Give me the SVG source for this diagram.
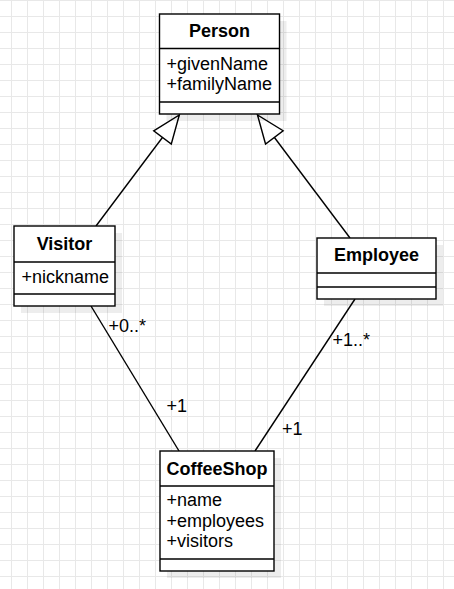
<svg xmlns="http://www.w3.org/2000/svg" width="454" height="589" viewBox="0 0 454 589">
<defs>
<pattern id="grid" patternUnits="userSpaceOnUse" x="11" y="0" width="16" height="16">
<path d="M0.5 0V16M0 0.5H16" stroke="#e8e8e8" stroke-width="1" fill="none"/>
</pattern>
<marker id="gen" markerUnits="userSpaceOnUse" viewBox="-1 -1 30 24" markerWidth="30" markerHeight="24" refX="28" refY="11" orient="auto" overflow="visible">
<path d="M0,0 L28,11 L0,22 Z" fill="#fff" stroke="#000" stroke-width="1.4"/>
</marker>
<style>
.box{fill:#fff;stroke:#000;stroke-width:1.4}
.sh{fill:#000;fill-opacity:0.07}
.div{stroke:#000;stroke-width:1.4}
.t{font-family:"Liberation Sans",Arial,sans-serif;font-size:18px;fill:#000}
.h{font-weight:bold;text-anchor:middle}
.ln{stroke:#000;stroke-width:1.4;fill:none}
</style>
</defs>
<rect width="454" height="589" fill="#fff"/>
<rect width="454" height="589" fill="url(#grid)"/>

<g id="connectors">
<path class="ln" d="M96,226 L179.3,115" marker-end="url(#gen)"/>
<path class="ln" d="M350,238 L257.5,115" marker-end="url(#gen)"/>
<path class="ln" d="M91,306 L179,451"/>
<path class="ln" d="M355,299 L255,451"/>
<text class="t" x="108.5" y="332">+0..*</text>
<text class="t" x="166.5" y="412">+1</text>
<text class="t" x="332.5" y="346">+1..*</text>
<text class="t" x="282" y="435">+1</text>
</g>

<g id="person">
<rect class="sh" x="166.5" y="21" width="120" height="100"/>
<rect class="box" x="159.5" y="14" width="120" height="100"/>
<line class="div" x1="159.5" y1="48.5" x2="279.5" y2="48.5"/>
<line class="div" x1="159.5" y1="102" x2="279.5" y2="102"/>
<text class="t h" x="219.5" y="37">Person</text>
<text class="t" x="166.5" y="69.5">+givenName</text>
<text class="t" x="166.5" y="90">+familyName</text>
</g>

<g id="visitor">
<rect class="sh" x="21" y="233" width="101" height="80"/>
<rect class="box" x="14" y="226" width="101" height="80"/>
<line class="div" x1="14" y1="262" x2="115" y2="262"/>
<line class="div" x1="14" y1="294" x2="115" y2="294"/>
<text class="t h" x="64.5" y="250">Visitor</text>
<text class="t" x="21.5" y="283">+nickname</text>
</g>

<g id="employee">
<rect class="sh" x="324" y="245" width="119" height="61"/>
<rect class="box" x="317" y="238" width="119" height="61"/>
<line class="div" x1="317" y1="273" x2="436" y2="273"/>
<line class="div" x1="317" y1="287" x2="436" y2="287"/>
<text class="t h" x="376.5" y="261">Employee</text>
</g>

<g id="coffeeshop">
<rect class="sh" x="167" y="458" width="114" height="120"/>
<rect class="box" x="160" y="451" width="114" height="120"/>
<line class="div" x1="160" y1="486" x2="274" y2="486"/>
<line class="div" x1="160" y1="559" x2="274" y2="559"/>
<text class="t h" x="217" y="475">CoffeeShop</text>
<text class="t" x="166.5" y="505.5">+name</text>
<text class="t" x="166.5" y="526.5">+employees</text>
<text class="t" x="166.5" y="547">+visitors</text>
</g>
</svg>
